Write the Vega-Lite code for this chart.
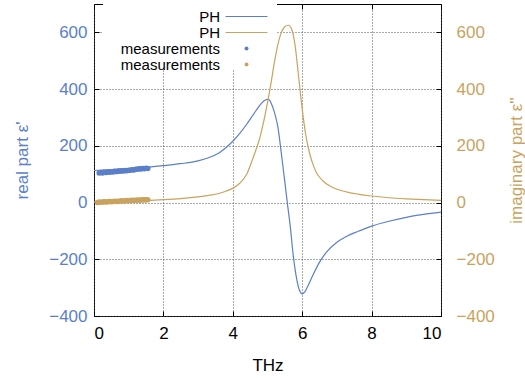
{
  "$schema": "https://vega.github.io/schema/vega-lite/v6.json",
  "width": 347,
  "height": 312,
  "autosize": {"type": "none"},
  "padding": {"left": 94, "top": 4, "right": 84, "bottom": 62},
  "background": "white",
  "config": {
    "font": "Liberation Sans",
    "view": {"stroke": "black", "strokeWidth": 1},
    "axis": {
      "domain": false,
      "tickColor": "black",
      "tickSize": -5,
      "gridColor": "#555555",
      "gridDash": [1, 2],
      "gridWidth": 1,
      "labelFontSize": 17,
      "titleFontSize": 17,
      "titleFontWeight": "normal",
      "labelFont": "Liberation Sans",
      "titleFont": "Liberation Sans"
    },
    "legend": {
      "labelFont": "Liberation Sans",
      "labelFontSize": 15,
      "labelColor": "black",
      "padding": 0,
      "rowPadding": 0,
      "labelAlign": "right"
    }
  },
  "data": {
    "values": [
      {"f": 0, "v": 113, "series": "PH_re"},
      {"f": 0.5, "v": 116, "series": "PH_re"},
      {"f": 1.0, "v": 120, "series": "PH_re"},
      {"f": 1.5, "v": 124, "series": "PH_re"},
      {"f": 2.0, "v": 130, "series": "PH_re"},
      {"f": 2.5, "v": 137, "series": "PH_re"},
      {"f": 3.0, "v": 147, "series": "PH_re"},
      {"f": 3.3, "v": 158, "series": "PH_re"},
      {"f": 3.6, "v": 175, "series": "PH_re"},
      {"f": 3.8, "v": 193, "series": "PH_re"},
      {"f": 4.0, "v": 216, "series": "PH_re"},
      {"f": 4.2, "v": 244, "series": "PH_re"},
      {"f": 4.4, "v": 276, "series": "PH_re"},
      {"f": 4.6, "v": 312, "series": "PH_re"},
      {"f": 4.8, "v": 346, "series": "PH_re"},
      {"f": 4.9, "v": 359, "series": "PH_re"},
      {"f": 5.0, "v": 364, "series": "PH_re"},
      {"f": 5.05, "v": 362, "series": "PH_re"},
      {"f": 5.1, "v": 352, "series": "PH_re"},
      {"f": 5.2, "v": 318, "series": "PH_re"},
      {"f": 5.3, "v": 266, "series": "PH_re"},
      {"f": 5.4, "v": 172, "series": "PH_re"},
      {"f": 5.5, "v": 72, "series": "PH_re"},
      {"f": 5.57, "v": 0, "series": "PH_re"},
      {"f": 5.65, "v": -78, "series": "PH_re"},
      {"f": 5.75, "v": -195, "series": "PH_re"},
      {"f": 5.85, "v": -275, "series": "PH_re"},
      {"f": 5.93, "v": -312, "series": "PH_re"},
      {"f": 6.0, "v": -322, "series": "PH_re"},
      {"f": 6.07, "v": -316, "series": "PH_re"},
      {"f": 6.15, "v": -298, "series": "PH_re"},
      {"f": 6.3, "v": -258, "series": "PH_re"},
      {"f": 6.5, "v": -210, "series": "PH_re"},
      {"f": 6.7, "v": -175, "series": "PH_re"},
      {"f": 7.0, "v": -140, "series": "PH_re"},
      {"f": 7.3, "v": -118, "series": "PH_re"},
      {"f": 7.6, "v": -102, "series": "PH_re"},
      {"f": 8.0, "v": -83, "series": "PH_re"},
      {"f": 8.5, "v": -66, "series": "PH_re"},
      {"f": 9.0, "v": -52, "series": "PH_re"},
      {"f": 9.5, "v": -42, "series": "PH_re"},
      {"f": 10.0, "v": -34, "series": "PH_re"},

      {"f": 0, "v": 2, "series": "PH_im"},
      {"f": 0.5, "v": 3, "series": "PH_im"},
      {"f": 1.0, "v": 5, "series": "PH_im"},
      {"f": 1.5, "v": 7, "series": "PH_im"},
      {"f": 2.0, "v": 10, "series": "PH_im"},
      {"f": 2.5, "v": 14, "series": "PH_im"},
      {"f": 3.0, "v": 20, "series": "PH_im"},
      {"f": 3.3, "v": 25, "series": "PH_im"},
      {"f": 3.6, "v": 32, "series": "PH_im"},
      {"f": 3.8, "v": 40, "series": "PH_im"},
      {"f": 4.0, "v": 50, "series": "PH_im"},
      {"f": 4.2, "v": 68, "series": "PH_im"},
      {"f": 4.4, "v": 100, "series": "PH_im"},
      {"f": 4.6, "v": 163, "series": "PH_im"},
      {"f": 4.8, "v": 238, "series": "PH_im"},
      {"f": 5.0, "v": 352, "series": "PH_im"},
      {"f": 5.1, "v": 420, "series": "PH_im"},
      {"f": 5.2, "v": 495, "series": "PH_im"},
      {"f": 5.3, "v": 558, "series": "PH_im"},
      {"f": 5.4, "v": 600, "series": "PH_im"},
      {"f": 5.5, "v": 620, "series": "PH_im"},
      {"f": 5.6, "v": 625, "series": "PH_im"},
      {"f": 5.7, "v": 610, "series": "PH_im"},
      {"f": 5.8, "v": 550, "series": "PH_im"},
      {"f": 5.9, "v": 440, "series": "PH_im"},
      {"f": 6.0, "v": 330, "series": "PH_im"},
      {"f": 6.1, "v": 240, "series": "PH_im"},
      {"f": 6.2, "v": 180, "series": "PH_im"},
      {"f": 6.3, "v": 138, "series": "PH_im"},
      {"f": 6.4, "v": 108, "series": "PH_im"},
      {"f": 6.6, "v": 76, "series": "PH_im"},
      {"f": 6.8, "v": 58, "series": "PH_im"},
      {"f": 7.0, "v": 47, "series": "PH_im"},
      {"f": 7.3, "v": 37, "series": "PH_im"},
      {"f": 7.6, "v": 30, "series": "PH_im"},
      {"f": 8.0, "v": 23, "series": "PH_im"},
      {"f": 8.5, "v": 17, "series": "PH_im"},
      {"f": 9.0, "v": 13, "series": "PH_im"},
      {"f": 9.5, "v": 10, "series": "PH_im"},
      {"f": 10.0, "v": 8, "series": "PH_im"},

      {"f": 0.15, "v": 104, "series": "meas_re"},
      {"f": 0.20, "v": 106, "series": "meas_re"},
      {"f": 0.25, "v": 104, "series": "meas_re"},
      {"f": 0.30, "v": 107, "series": "meas_re"},
      {"f": 0.35, "v": 106, "series": "meas_re"},
      {"f": 0.40, "v": 108, "series": "meas_re"},
      {"f": 0.45, "v": 107, "series": "meas_re"},
      {"f": 0.50, "v": 109, "series": "meas_re"},
      {"f": 0.55, "v": 108, "series": "meas_re"},
      {"f": 0.60, "v": 110, "series": "meas_re"},
      {"f": 0.65, "v": 109, "series": "meas_re"},
      {"f": 0.70, "v": 111, "series": "meas_re"},
      {"f": 0.75, "v": 110, "series": "meas_re"},
      {"f": 0.80, "v": 112, "series": "meas_re"},
      {"f": 0.85, "v": 111, "series": "meas_re"},
      {"f": 0.90, "v": 113, "series": "meas_re"},
      {"f": 0.95, "v": 112, "series": "meas_re"},
      {"f": 1.00, "v": 114, "series": "meas_re"},
      {"f": 1.05, "v": 114, "series": "meas_re"},
      {"f": 1.10, "v": 116, "series": "meas_re"},
      {"f": 1.15, "v": 115, "series": "meas_re"},
      {"f": 1.20, "v": 117, "series": "meas_re"},
      {"f": 1.25, "v": 117, "series": "meas_re"},
      {"f": 1.30, "v": 119, "series": "meas_re"},
      {"f": 1.35, "v": 118, "series": "meas_re"},
      {"f": 1.40, "v": 120, "series": "meas_re"},
      {"f": 1.45, "v": 119, "series": "meas_re"},
      {"f": 1.50, "v": 121, "series": "meas_re"},
      {"f": 1.55, "v": 120, "series": "meas_re"},

      {"f": 0.10, "v": 0, "series": "meas_im"},
      {"f": 0.15, "v": 2, "series": "meas_im"},
      {"f": 0.20, "v": 1, "series": "meas_im"},
      {"f": 0.25, "v": 2, "series": "meas_im"},
      {"f": 0.30, "v": 3, "series": "meas_im"},
      {"f": 0.35, "v": 2, "series": "meas_im"},
      {"f": 0.40, "v": 3, "series": "meas_im"},
      {"f": 0.45, "v": 4, "series": "meas_im"},
      {"f": 0.50, "v": 3, "series": "meas_im"},
      {"f": 0.55, "v": 4, "series": "meas_im"},
      {"f": 0.60, "v": 5, "series": "meas_im"},
      {"f": 0.65, "v": 4, "series": "meas_im"},
      {"f": 0.70, "v": 5, "series": "meas_im"},
      {"f": 0.75, "v": 5, "series": "meas_im"},
      {"f": 0.80, "v": 6, "series": "meas_im"},
      {"f": 0.85, "v": 5, "series": "meas_im"},
      {"f": 0.90, "v": 6, "series": "meas_im"},
      {"f": 0.95, "v": 7, "series": "meas_im"},
      {"f": 1.00, "v": 6, "series": "meas_im"},
      {"f": 1.05, "v": 7, "series": "meas_im"},
      {"f": 1.10, "v": 8, "series": "meas_im"},
      {"f": 1.15, "v": 7, "series": "meas_im"},
      {"f": 1.20, "v": 8, "series": "meas_im"},
      {"f": 1.25, "v": 9, "series": "meas_im"},
      {"f": 1.30, "v": 8, "series": "meas_im"},
      {"f": 1.35, "v": 9, "series": "meas_im"},
      {"f": 1.40, "v": 10, "series": "meas_im"},
      {"f": 1.45, "v": 9, "series": "meas_im"},
      {"f": 1.50, "v": 10, "series": "meas_im"},
      {"f": 1.55, "v": 10, "series": "meas_im"}
    ]
  },
  "layer": [
    {
      "layer": [
        {
          "mark": {"type": "rect", "fill": "white", "stroke": null},
          "encoding": {
            "x": {"datum": 0.27, "type": "quantitative", "scale": {"domain": [0, 10]}, "axis": {"orient": "bottom", "values": [0, 2, 4, 6, 8, 10], "grid": true, "title": "THz", "titleColor": "black", "labelColor": "black", "labelPadding": 14, "titlePadding": 16}},
            "x2": {"datum": 5.27},
            "y": {"datum": 700, "type": "quantitative", "scale": {"domain": [-400, 700], "nice": false}, "axis": {"orient": "left", "values": [-400, -200, 0, 200, 400, 600], "grid": true, "title": "real part ε'", "titleColor": "#5b7fc8", "labelColor": "#5b7fc8", "labelPadding": 12, "titlePadding": 17}},
            "y2": {"datum": 470}
          }
        },
        {
          "transform": [{"filter": "datum.series === 'PH_re'"}],
          "mark": {"type": "line", "strokeWidth": 1.2, "interpolate": "monotone"},
          "encoding": {
            "x": {"field": "f", "type": "quantitative"},
            "y": {"field": "v", "type": "quantitative"},
            "stroke": {
              "field": "series", "type": "nominal",
              "scale": {"domain": ["PH_re", "PH_im"], "range": ["#5b7fc8", "#c9a35e"]},
              "legend": {"orient": "none", "legendX": 145, "legendY": 5, "title": null, "symbolType": "M-10.5,0H10.5", "symbolSize": 16, "symbolStrokeWidth": 1.2, "labelOffset": -34, "labelExpr": "'PH'"}
            }
          }
        },
        {
          "transform": [{"filter": "datum.series === 'meas_re'"}],
          "mark": {"type": "point", "filled": true, "size": 30, "opacity": 1, "strokeWidth": 0},
          "encoding": {
            "x": {"field": "f", "type": "quantitative"},
            "y": {"field": "v", "type": "quantitative"},
            "fill": {
              "field": "series", "type": "nominal",
              "scale": {"domain": ["meas_re", "meas_im"], "range": ["#5b7fc8", "#c9a35e"]},
              "legend": {"orient": "none", "legendX": 145, "legendY": 37, "title": null, "symbolType": "circle", "symbolSize": 16, "symbolStrokeWidth": 0, "labelOffset": -34, "labelExpr": "'measurements'"}
            }
          }
        }
      ]
    },
    {
      "layer": [
        {
          "transform": [{"filter": "datum.series === 'PH_im'"}],
          "mark": {"type": "line", "strokeWidth": 1.2, "interpolate": "monotone"},
          "encoding": {
            "x": {"field": "f", "type": "quantitative", "scale": {"domain": [0, 10]}, "axis": {"orient": "top", "values": [0, 2, 4, 6, 8, 10], "labels": false, "grid": false, "title": null}},
            "y": {"field": "v", "type": "quantitative", "scale": {"domain": [-400, 700], "nice": false}, "axis": {"orient": "right", "values": [-400, -200, 0, 200, 400, 600], "grid": false, "title": "imaginary part ε''", "titleAngle": 270, "titleColor": "#c9a35e", "labelColor": "#c9a35e", "labelPadding": 20, "titlePadding": 31}},
            "stroke": {"field": "series", "type": "nominal"}
          }
        },
        {
          "transform": [{"filter": "datum.series === 'meas_im'"}],
          "mark": {"type": "point", "filled": true, "size": 30, "opacity": 1, "strokeWidth": 0},
          "encoding": {
            "x": {"field": "f", "type": "quantitative"},
            "y": {"field": "v", "type": "quantitative"},
            "fill": {"field": "series", "type": "nominal"}
          }
        }
      ]
    }
  ],
  "resolve": {"scale": {"y": "independent"}, "axis": {"x": "independent", "y": "independent"}}
}
